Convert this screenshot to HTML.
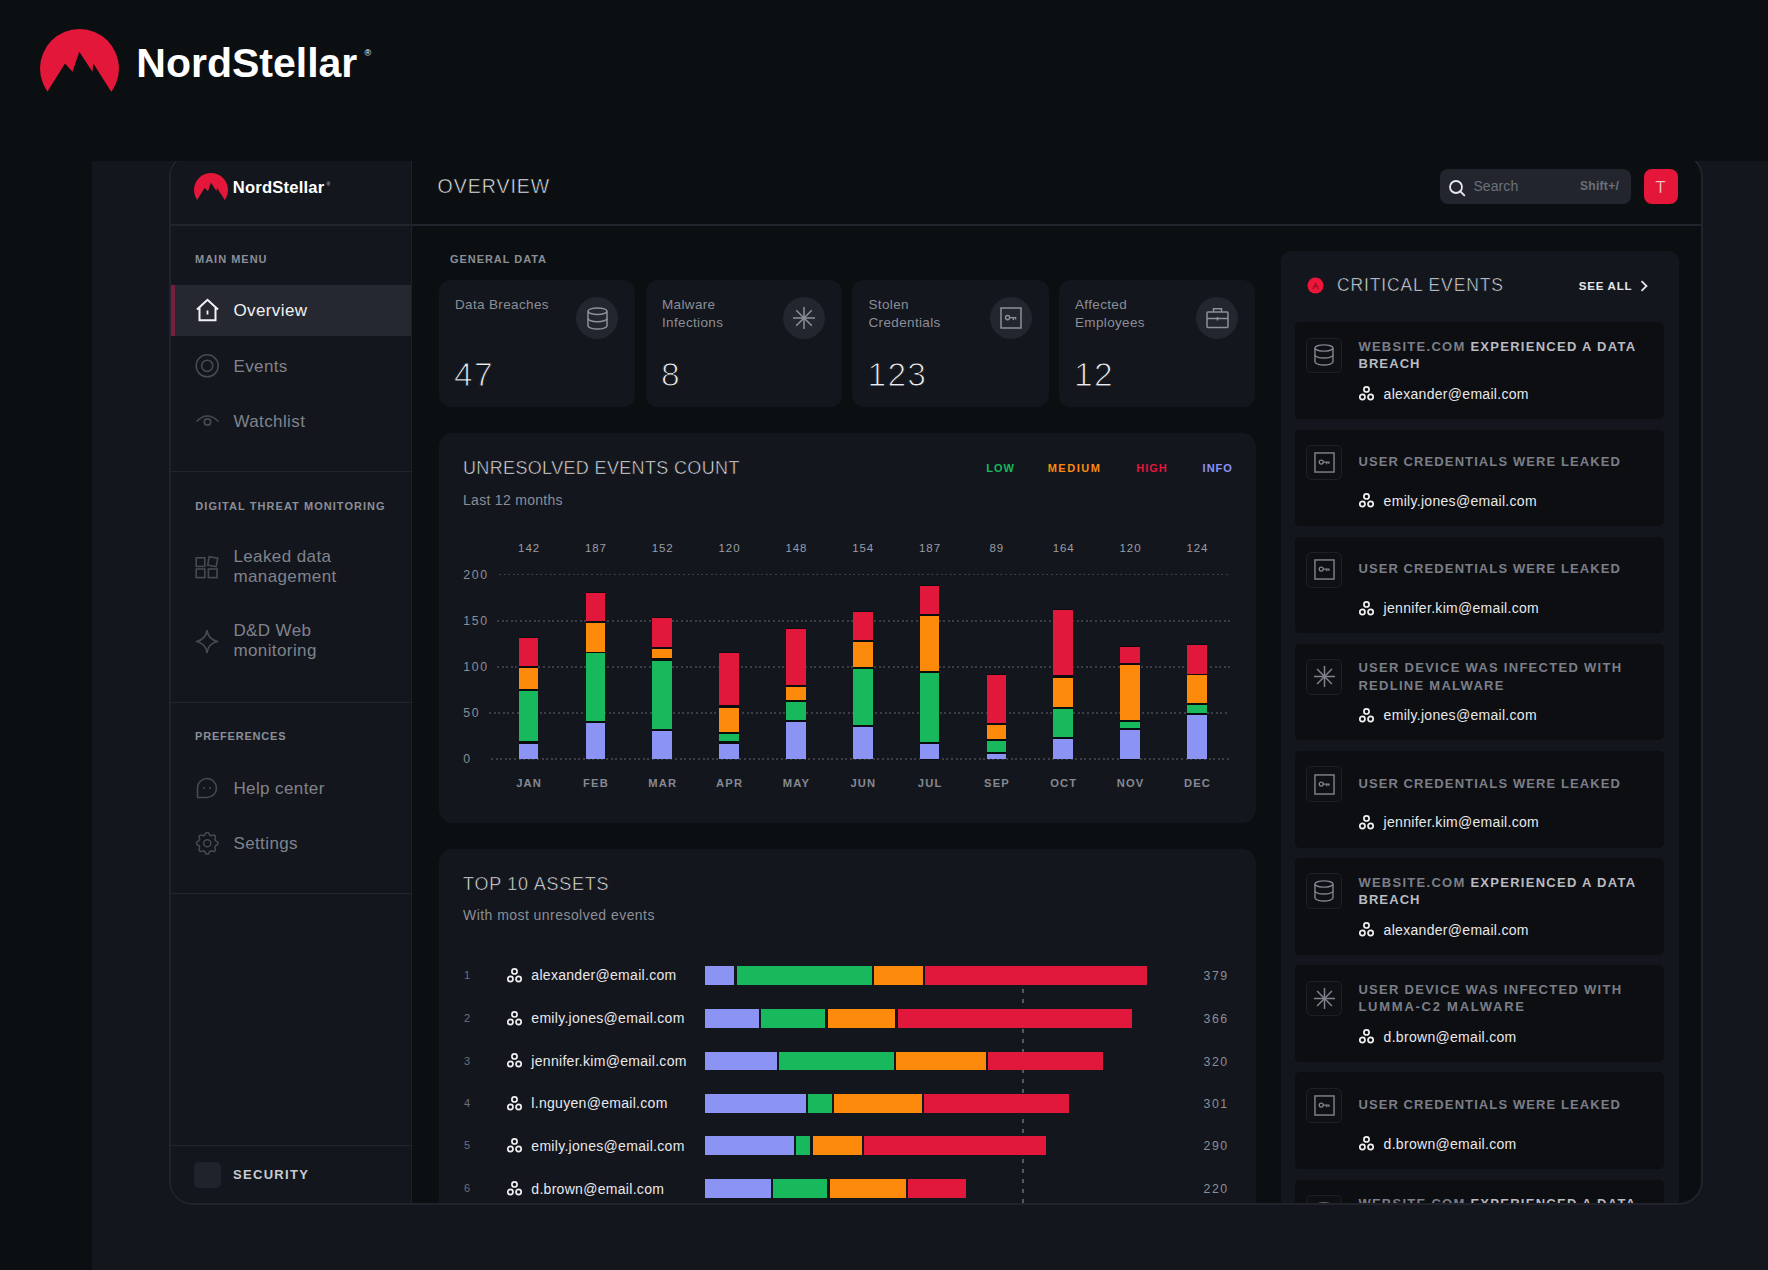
<!DOCTYPE html>
<html><head><meta charset="utf-8"><title>NordStellar Overview</title>
<style>
html,body{margin:0;padding:0;}
body{width:1768px;height:1270px;background:#0c0f12;position:relative;overflow:hidden;font-family:"Liberation Sans", Arial, sans-serif;}
.t{position:absolute;white-space:nowrap;line-height:1;}
.r{position:absolute;}
svg.r{overflow:visible;}
</style></head><body>
<svg class="r" style="left:40.10px;top:29.40px;" width="79" height="63.6" viewBox="0 0 80 64.4"><defs><clipPath id="lg1"><polygon points="0,0 80,0 80,65 72.7,64.4 54,34.9 53.1,43.2 39.8,23.1 32.9,43.2 25.3,34.9 7,64.4 0,65"/></clipPath></defs><circle cx="40" cy="40" r="40" fill="#e3173a" clip-path="url(#lg1)"/></svg>
<div class="t" style="top:42.69px;font-size:41px;color:#ffffff;font-weight:700;left:136.30px;">NordStellar</div>
<div class="t" style="top:49.38px;font-size:9px;color:#ffffff;left:364.50px;">&#174;</div>
<div class="r" style="left:92px;top:161px;width:1676px;height:1109px;background:#13161d;overflow:hidden;">
<div class="r" style="left:77px;top:-8px;width:1534px;height:1052px;border:2px solid #20232b;border-radius:24px;background:#0c0f12;overflow:hidden;box-sizing:border-box;">
<div class="r" style="left:-171px;top:-155px;width:1768px;height:1270px;">
<div class="r" style="left:171.00px;top:155.00px;width:240.00px;height:1050.00px;background:#13161d;"></div>
<div class="r" style="left:410.60px;top:155.00px;width:1.60px;height:1050.00px;background:#1e2129;"></div>
<svg class="r" style="left:193.90px;top:173.10px;" width="34" height="27.37" viewBox="0 0 80 64.4"><defs><clipPath id="lg2"><polygon points="0,0 80,0 80,65 72.7,64.4 54,34.9 53.1,43.2 39.8,23.1 32.9,43.2 25.3,34.9 7,64.4 0,65"/></clipPath></defs><circle cx="40" cy="40" r="40" fill="#e3173a" clip-path="url(#lg2)"/></svg>
<div class="t" style="top:180.15px;font-size:16.6px;color:#ffffff;font-weight:700;letter-spacing:0.2px;left:232.80px;">NordStellar</div>
<div class="t" style="top:182.27px;font-size:5px;color:#cfd0d4;left:326.50px;">&#174;</div>
<div class="r" style="left:171.00px;top:224.40px;width:240.00px;height:1.20px;background:#22252d;"></div>
<div class="t" style="top:253.89px;font-size:11px;color:#8b8e97;font-weight:700;letter-spacing:1.0px;left:195.00px;">MAIN MENU</div>
<div class="r" style="left:171.00px;top:285.00px;width:240.00px;height:51.00px;background:#252831;"></div>
<div class="r" style="left:171.00px;top:285.00px;width:3.50px;height:51.00px;background:#74203c;"></div>
<svg class="r" style="left:195.00px;top:298.00px;" width="25" height="24" viewBox="0 0 25 24"><path d="M2 11.5 L12.5 1.8 L23 11.5 M4.5 9.5 V22.2 H20.5 V9.5" fill="none" stroke="#f2f2f4" stroke-width="2" stroke-linejoin="miter"/><path d="M12.5 12.5 V16.5" stroke="#f2f2f4" stroke-width="1.8"/></svg>
<div class="t" style="top:302.41px;font-size:17px;color:#f0f0f2;letter-spacing:0.4px;left:233.40px;">Overview</div>
<svg class="r" style="left:195.00px;top:354.00px;" width="25" height="25" viewBox="0 0 25 25"><circle cx="12.2" cy="11.8" r="11" fill="none" stroke="#474a53" stroke-width="1.6"/><circle cx="12.2" cy="11.8" r="5.6" fill="none" stroke="#474a53" stroke-width="1.6"/></svg>
<div class="t" style="top:358.21px;font-size:17px;color:#80838c;letter-spacing:0.4px;left:233.40px;">Events</div>
<svg class="r" style="left:195.00px;top:412.00px;" width="25" height="20" viewBox="0 0 25 20"><path d="M1.5 9.5 Q12.5 -1.5 23.5 9.5" fill="none" stroke="#474a53" stroke-width="1.7"/><circle cx="12.5" cy="10" r="3.2" fill="none" stroke="#474a53" stroke-width="1.7"/></svg>
<div class="t" style="top:413.01px;font-size:17px;color:#80838c;letter-spacing:0.4px;left:233.40px;">Watchlist</div>
<div class="r" style="left:171.00px;top:471.00px;width:240.00px;height:1.00px;background:#22252d;"></div>
<div class="t" style="top:500.99px;font-size:11px;color:#8b8e97;font-weight:700;letter-spacing:1.05px;left:195.30px;">DIGITAL THREAT MONITORING</div>
<svg class="r" style="left:195.00px;top:556.00px;" width="24" height="23" viewBox="0 0 24 23"><rect x="1.2" y="1.8" width="8.6" height="8.6" fill="none" stroke="#474a53" stroke-width="1.6"/><rect x="13.4" y="1.4" width="8.6" height="8.6" fill="none" stroke="#474a53" stroke-width="1.6" transform="rotate(10 17.7 5.7)"/><rect x="1.2" y="13" width="8.6" height="8.6" fill="none" stroke="#474a53" stroke-width="1.6"/><rect x="13.4" y="13" width="8.6" height="8.6" fill="none" stroke="#474a53" stroke-width="1.6"/></svg>
<div class="t" style="top:547.61px;font-size:17px;color:#80838c;letter-spacing:0.4px;left:233.40px;">Leaked data</div>
<div class="t" style="top:567.61px;font-size:17px;color:#80838c;letter-spacing:0.4px;left:233.40px;">management</div>
<svg class="r" style="left:195.00px;top:629.00px;" width="24" height="25" viewBox="0 0 24 25"><path d="M12 1.5 Q13.5 10.5 22.5 12.5 Q13.5 14.5 12 23.5 Q10.5 14.5 1.5 12.5 Q10.5 10.5 12 1.5 Z" fill="none" stroke="#474a53" stroke-width="1.6" stroke-linejoin="round"/></svg>
<div class="t" style="top:622.31px;font-size:17px;color:#80838c;letter-spacing:0.4px;left:233.40px;">D&amp;D Web</div>
<div class="t" style="top:641.81px;font-size:17px;color:#80838c;letter-spacing:0.4px;left:233.40px;">monitoring</div>
<div class="r" style="left:171.00px;top:702.00px;width:240.00px;height:1.00px;background:#22252d;"></div>
<div class="t" style="top:731.19px;font-size:11px;color:#8b8e97;font-weight:700;letter-spacing:0.8px;left:195.00px;">PREFERENCES</div>
<svg class="r" style="left:195.00px;top:776.00px;" width="24" height="24" viewBox="0 0 24 24"><path d="M2.5 21.5 V11.5 A9.5 9.5 0 1 1 12 21.5 Z" fill="none" stroke="#474a53" stroke-width="1.6" stroke-linejoin="round"/><circle cx="9" cy="12" r="1.1" fill="#474a53"/><circle cx="15" cy="12" r="1.1" fill="#474a53"/></svg>
<div class="t" style="top:779.61px;font-size:17px;color:#80838c;letter-spacing:0.4px;left:233.40px;">Help center</div>
<svg class="r" style="left:195.50px;top:831.50px;" width="22.5" height="22.5" viewBox="2.6 2.6 18.8 18.8"><path d="M10.325 4.317c.426 -1.756 2.924 -1.756 3.35 0a1.724 1.724 0 0 0 2.573 1.066c1.543 -.94 3.31 .826 2.37 2.37a1.724 1.724 0 0 0 1.065 2.572c1.756 .426 1.756 2.924 0 3.35a1.724 1.724 0 0 0 -1.066 2.573c.94 1.543 -.826 3.31 -2.37 2.37a1.724 1.724 0 0 0 -2.572 1.065c-.426 1.756 -2.924 1.756 -3.35 0a1.724 1.724 0 0 0 -2.573 -1.066c-1.543 .94 -3.31 -.826 -2.37 -2.37a1.724 1.724 0 0 0 -1.065 -2.572c-1.756 -.426 -1.756 -2.924 0 -3.35a1.724 1.724 0 0 0 1.066 -2.573c-.94 -1.543 .826 -3.31 2.37 -2.37c1 .608 2.296 .07 2.572 -1.065z" fill="none" stroke="#474a53" stroke-width="1.3" stroke-linejoin="round"/><circle cx="12" cy="12" r="3" fill="none" stroke="#474a53" stroke-width="1.3"/></svg>
<div class="t" style="top:834.71px;font-size:17px;color:#80838c;letter-spacing:0.4px;left:233.40px;">Settings</div>
<div class="r" style="left:171.00px;top:893.00px;width:240.00px;height:1.00px;background:#22252d;"></div>
<div class="r" style="left:171.00px;top:1145.00px;width:240.00px;height:1.00px;background:#22252d;"></div>
<div class="r" style="left:194.20px;top:1162.40px;width:26.40px;height:25.20px;background:#20232b;border-radius:5px;"></div>
<div class="t" style="top:1168.30px;font-size:13px;color:#c9cbd0;font-weight:700;letter-spacing:1.3px;left:233.00px;">SECURITY</div>
<div class="r" style="left:412.00px;top:224.40px;width:1290.00px;height:1.20px;background:#22252d;"></div>
<div class="t" style="top:177.49px;font-size:19.5px;color:#eeeff2;letter-spacing:1.0px;left:437.50px;-webkit-text-stroke:0.6px #0c0f12;">OVERVIEW</div>
<div class="r" style="left:1439.50px;top:169.00px;width:191.00px;height:35.00px;background:#22252e;border-radius:8px;"></div>
<svg class="r" style="left:1447.50px;top:178.50px;" width="18" height="18" viewBox="0 0 18 18"><circle cx="8" cy="8" r="6" fill="none" stroke="#e6e7ea" stroke-width="1.8"/><path d="M12.3 12.3 L16.3 16.3" stroke="#e6e7ea" stroke-width="1.9" stroke-linecap="round"/></svg>
<div class="t" style="top:178.55px;font-size:14px;color:#6d7079;letter-spacing:0.1px;left:1473.40px;">Search</div>
<div class="t" style="top:180.04px;font-size:12px;color:#6d7079;font-weight:700;letter-spacing:0.3px;left:1580.00px;">Shift+/</div>
<div class="r" style="left:1643.50px;top:169.00px;width:34.00px;height:35.00px;background:#e4163a;border-radius:8px;"></div>
<div class="t" style="top:178.61px;font-size:17px;color:#ffffff;left:1643.50px;width:34px;text-align:center;-webkit-text-stroke:0.6px #e4163a;">T</div>
<div class="t" style="top:253.69px;font-size:11px;color:#8b8e97;font-weight:700;letter-spacing:0.95px;left:450.00px;">GENERAL DATA</div>
<div class="r" style="left:438.60px;top:280.30px;width:196.60px;height:126.70px;background:#13161d;border-radius:12px;"></div>
<div class="t" style="top:298.37px;font-size:13.5px;color:#8b8e97;letter-spacing:0.35px;left:455.00px;">Data Breaches</div>
<div class="r" style="left:576.00px;top:297.00px;width:42.00px;height:42.00px;background:#23262e;border-radius:50%;"></div>
<svg class="r" style="left:586.50px;top:306.50px;" width="21.0" height="23.0" viewBox="0 0 21 23"><ellipse cx="10.5" cy="4.2" rx="9.5" ry="3.3" fill="none" stroke="#8d909a" stroke-width="1.5"/><path d="M1 4.2 V18.8 A9.5 3.3 0 0 0 20 18.8 V4.2" fill="none" stroke="#8d909a" stroke-width="1.5"/><path d="M1 11.5 A9.5 3.3 0 0 0 20 11.5" fill="none" stroke="#8d909a" stroke-width="1.5"/></svg>
<div class="t" style="top:357.54px;font-size:33.5px;color:#ededf0;letter-spacing:1.3px;left:454.00px;-webkit-text-stroke:1.1px #13161d;">47</div>
<div class="r" style="left:645.60px;top:280.30px;width:196.60px;height:126.70px;background:#13161d;border-radius:12px;"></div>
<div class="t" style="top:298.37px;font-size:13.5px;color:#8b8e97;letter-spacing:0.35px;left:662.00px;">Malware</div>
<div class="t" style="top:315.77px;font-size:13.5px;color:#8b8e97;letter-spacing:0.35px;left:662.00px;">Infections</div>
<div class="r" style="left:783.00px;top:297.00px;width:42.00px;height:42.00px;background:#23262e;border-radius:50%;"></div>
<svg class="r" style="left:793.00px;top:307.00px;" width="22" height="22" viewBox="0 0 22 22"><path d="M0.00 11.00 L22.00 11.00" stroke="#8d909a" stroke-width="1.5"/><path d="M3.22 3.22 L18.78 18.78" stroke="#8d909a" stroke-width="1.5"/><path d="M11.00 0.00 L11.00 22.00" stroke="#8d909a" stroke-width="1.5"/><path d="M18.78 3.22 L3.22 18.78" stroke="#8d909a" stroke-width="1.5"/></svg>
<div class="t" style="top:357.54px;font-size:33.5px;color:#ededf0;letter-spacing:1.3px;left:661.00px;-webkit-text-stroke:1.1px #13161d;">8</div>
<div class="r" style="left:852.10px;top:280.30px;width:196.60px;height:126.70px;background:#13161d;border-radius:12px;"></div>
<div class="t" style="top:298.37px;font-size:13.5px;color:#8b8e97;letter-spacing:0.35px;left:868.50px;">Stolen</div>
<div class="t" style="top:315.77px;font-size:13.5px;color:#8b8e97;letter-spacing:0.35px;left:868.50px;">Credentials</div>
<div class="r" style="left:989.50px;top:297.00px;width:42.00px;height:42.00px;background:#23262e;border-radius:50%;"></div>
<svg class="r" style="left:999.50px;top:307.00px;" width="22" height="22" viewBox="0 0 22 22"><rect x="1" y="1" width="20" height="20" fill="none" stroke="#8d909a" stroke-width="1.5"/><circle cx="7.6" cy="10.6" r="2.1" fill="none" stroke="#8d909a" stroke-width="1.4"/><path d="M9.7 10.6 H16.2 M13.3 10.6 V12.9 M15.6 10.6 V12.4" fill="none" stroke="#8d909a" stroke-width="1.4"/></svg>
<div class="t" style="top:357.54px;font-size:33.5px;color:#ededf0;letter-spacing:1.3px;left:867.50px;-webkit-text-stroke:1.1px #13161d;">123</div>
<div class="r" style="left:1058.60px;top:280.30px;width:196.60px;height:126.70px;background:#13161d;border-radius:12px;"></div>
<div class="t" style="top:298.37px;font-size:13.5px;color:#8b8e97;letter-spacing:0.35px;left:1075.00px;">Affected</div>
<div class="t" style="top:315.77px;font-size:13.5px;color:#8b8e97;letter-spacing:0.35px;left:1075.00px;">Employees</div>
<div class="r" style="left:1196.00px;top:297.00px;width:42.00px;height:42.00px;background:#23262e;border-radius:50%;"></div>
<svg class="r" style="left:1205.50px;top:307.00px;" width="23" height="22" viewBox="0 0 23 22"><rect x="1" y="5" width="21" height="15.5" rx="1" fill="none" stroke="#8d909a" stroke-width="1.5"/><path d="M7.5 5 V1.8 H15.5 V5" fill="none" stroke="#8d909a" stroke-width="1.5"/><path d="M1 11.5 H22" stroke="#8d909a" stroke-width="1.5"/><path d="M11.5 10 V13.5" stroke="#8d909a" stroke-width="1.6"/></svg>
<div class="t" style="top:357.54px;font-size:33.5px;color:#ededf0;letter-spacing:1.3px;left:1074.00px;-webkit-text-stroke:1.1px #13161d;">12</div>
<div class="r" style="left:438.50px;top:433.40px;width:817.00px;height:389.60px;background:#13161d;border-radius:14px;"></div>
<div class="t" style="top:459.46px;font-size:18px;color:#eeeff2;letter-spacing:0.35px;left:463.00px;-webkit-text-stroke:0.6px #13161d;">UNRESOLVED EVENTS COUNT</div>
<div class="t" style="top:492.55px;font-size:14px;color:#8b8e97;letter-spacing:0.3px;left:463.00px;">Last 12 months</div>
<div class="t" style="top:462.79px;font-size:11px;color:#18b85c;font-weight:700;letter-spacing:1.0px;left:986.30px;">LOW</div>
<div class="t" style="top:462.79px;font-size:11px;color:#fd8a0b;font-weight:700;letter-spacing:1.5px;left:1047.70px;">MEDIUM</div>
<div class="t" style="top:462.79px;font-size:11px;color:#e1173b;font-weight:700;letter-spacing:1.0px;left:1136.30px;">HIGH</div>
<div class="t" style="top:462.79px;font-size:11px;color:#8b93f5;font-weight:700;letter-spacing:1.0px;left:1202.60px;">INFO</div>
<div class="t" style="top:568.69px;font-size:12.3px;color:#8b8e97;letter-spacing:1.6px;left:463.30px;">200</div>
<div class="r" style="left:498.5px;top:573.60px;width:731.5px;height:1.8px;background:repeating-linear-gradient(90deg,#3b3e47 0 2px,transparent 2px 4.6px);"></div>
<div class="t" style="top:614.99px;font-size:12.3px;color:#8b8e97;letter-spacing:1.6px;left:463.30px;">150</div>
<div class="r" style="left:496.5px;top:619.90px;width:733.5px;height:1.8px;background:repeating-linear-gradient(90deg,#3b3e47 0 2px,transparent 2px 4.6px);"></div>
<div class="t" style="top:661.09px;font-size:12.3px;color:#8b8e97;letter-spacing:1.6px;left:463.30px;">100</div>
<div class="r" style="left:496.5px;top:666.00px;width:733.5px;height:1.8px;background:repeating-linear-gradient(90deg,#3b3e47 0 2px,transparent 2px 4.6px);"></div>
<div class="t" style="top:707.09px;font-size:12.3px;color:#8b8e97;letter-spacing:1.6px;left:463.30px;">50</div>
<div class="r" style="left:489px;top:712.00px;width:741px;height:1.8px;background:repeating-linear-gradient(90deg,#3b3e47 0 2px,transparent 2px 4.6px);"></div>
<div class="t" style="top:753.19px;font-size:12.3px;color:#8b8e97;letter-spacing:1.6px;left:463.30px;">0</div>
<div class="r" style="left:491px;top:758.10px;width:739px;height:1.8px;background:repeating-linear-gradient(90deg,#3b3e47 0 2px,transparent 2px 4.6px);"></div>
<div class="t" style="top:543.27px;font-size:11.5px;color:#9a9da6;letter-spacing:0.9px;left:508.60px;width:40px;text-align:center;text-indent:0.9px;">142</div>
<div class="t" style="top:778.22px;font-size:11.2px;color:#868992;font-weight:700;letter-spacing:1.15px;left:503.60px;width:50px;text-align:center;text-indent:1.15px;">JAN</div>
<div class="r" style="left:518.80px;top:637.10px;width:19.60px;height:122.40px;background:#0a0c0f;"></div>
<div class="r" style="left:518.80px;top:638.10px;width:19.60px;height:28.20px;background:#e1173b;"></div>
<div class="r" style="left:518.80px;top:668.10px;width:19.60px;height:21.30px;background:#fd8a0b;"></div>
<div class="r" style="left:518.80px;top:691.20px;width:19.60px;height:50.20px;background:#18b85c;"></div>
<div class="r" style="left:518.80px;top:743.70px;width:19.60px;height:15.40px;background:#8b93f5;"></div>
<div class="t" style="top:543.27px;font-size:11.5px;color:#9a9da6;letter-spacing:0.9px;left:575.43px;width:40px;text-align:center;text-indent:0.9px;">187</div>
<div class="t" style="top:778.22px;font-size:11.2px;color:#868992;font-weight:700;letter-spacing:1.15px;left:570.43px;width:50px;text-align:center;text-indent:1.15px;">FEB</div>
<div class="r" style="left:585.63px;top:591.80px;width:19.60px;height:167.70px;background:#0a0c0f;"></div>
<div class="r" style="left:585.63px;top:592.80px;width:19.60px;height:28.70px;background:#e1173b;"></div>
<div class="r" style="left:585.63px;top:623.30px;width:19.60px;height:28.30px;background:#fd8a0b;"></div>
<div class="r" style="left:585.63px;top:653.20px;width:19.60px;height:68.30px;background:#18b85c;"></div>
<div class="r" style="left:585.63px;top:723.30px;width:19.60px;height:35.80px;background:#8b93f5;"></div>
<div class="t" style="top:543.27px;font-size:11.5px;color:#9a9da6;letter-spacing:0.9px;left:642.26px;width:40px;text-align:center;text-indent:0.9px;">152</div>
<div class="t" style="top:778.22px;font-size:11.2px;color:#868992;font-weight:700;letter-spacing:1.15px;left:637.26px;width:50px;text-align:center;text-indent:1.15px;">MAR</div>
<div class="r" style="left:652.46px;top:617.40px;width:19.60px;height:142.10px;background:#0a0c0f;"></div>
<div class="r" style="left:652.46px;top:618.40px;width:19.60px;height:28.70px;background:#e1173b;"></div>
<div class="r" style="left:652.46px;top:648.90px;width:19.60px;height:9.50px;background:#fd8a0b;"></div>
<div class="r" style="left:652.46px;top:660.70px;width:19.60px;height:68.30px;background:#18b85c;"></div>
<div class="r" style="left:652.46px;top:730.80px;width:19.60px;height:28.30px;background:#8b93f5;"></div>
<div class="t" style="top:543.27px;font-size:11.5px;color:#9a9da6;letter-spacing:0.9px;left:709.09px;width:40px;text-align:center;text-indent:0.9px;">120</div>
<div class="t" style="top:778.22px;font-size:11.2px;color:#868992;font-weight:700;letter-spacing:1.15px;left:704.09px;width:50px;text-align:center;text-indent:1.15px;">APR</div>
<div class="r" style="left:719.29px;top:651.80px;width:19.60px;height:107.70px;background:#0a0c0f;"></div>
<div class="r" style="left:719.29px;top:652.80px;width:19.60px;height:52.40px;background:#e1173b;"></div>
<div class="r" style="left:719.29px;top:707.50px;width:19.60px;height:24.50px;background:#fd8a0b;"></div>
<div class="r" style="left:719.29px;top:733.80px;width:19.60px;height:7.60px;background:#18b85c;"></div>
<div class="r" style="left:719.29px;top:743.70px;width:19.60px;height:15.40px;background:#8b93f5;"></div>
<div class="t" style="top:543.27px;font-size:11.5px;color:#9a9da6;letter-spacing:0.9px;left:775.92px;width:40px;text-align:center;text-indent:0.9px;">148</div>
<div class="t" style="top:778.22px;font-size:11.2px;color:#868992;font-weight:700;letter-spacing:1.15px;left:770.92px;width:50px;text-align:center;text-indent:1.15px;">MAY</div>
<div class="r" style="left:786.12px;top:627.60px;width:19.60px;height:131.90px;background:#0a0c0f;"></div>
<div class="r" style="left:786.12px;top:628.60px;width:19.60px;height:56.30px;background:#e1173b;"></div>
<div class="r" style="left:786.12px;top:687.10px;width:19.60px;height:13.20px;background:#fd8a0b;"></div>
<div class="r" style="left:786.12px;top:702.10px;width:19.60px;height:18.10px;background:#18b85c;"></div>
<div class="r" style="left:786.12px;top:722.00px;width:19.60px;height:37.10px;background:#8b93f5;"></div>
<div class="t" style="top:543.27px;font-size:11.5px;color:#9a9da6;letter-spacing:0.9px;left:842.75px;width:40px;text-align:center;text-indent:0.9px;">154</div>
<div class="t" style="top:778.22px;font-size:11.2px;color:#868992;font-weight:700;letter-spacing:1.15px;left:837.75px;width:50px;text-align:center;text-indent:1.15px;">JUN</div>
<div class="r" style="left:852.95px;top:611.20px;width:19.60px;height:148.30px;background:#0a0c0f;"></div>
<div class="r" style="left:852.95px;top:612.20px;width:19.60px;height:28.30px;background:#e1173b;"></div>
<div class="r" style="left:852.95px;top:642.30px;width:19.60px;height:24.80px;background:#fd8a0b;"></div>
<div class="r" style="left:852.95px;top:669.00px;width:19.60px;height:55.70px;background:#18b85c;"></div>
<div class="r" style="left:852.95px;top:726.50px;width:19.60px;height:32.50px;background:#8b93f5;"></div>
<div class="t" style="top:543.27px;font-size:11.5px;color:#9a9da6;letter-spacing:0.9px;left:909.58px;width:40px;text-align:center;text-indent:0.9px;">187</div>
<div class="t" style="top:778.22px;font-size:11.2px;color:#868992;font-weight:700;letter-spacing:1.15px;left:904.58px;width:50px;text-align:center;text-indent:1.15px;">JUL</div>
<div class="r" style="left:919.78px;top:584.50px;width:19.60px;height:175.00px;background:#0a0c0f;"></div>
<div class="r" style="left:919.78px;top:585.50px;width:19.60px;height:28.30px;background:#e1173b;"></div>
<div class="r" style="left:919.78px;top:615.70px;width:19.60px;height:55.60px;background:#fd8a0b;"></div>
<div class="r" style="left:919.78px;top:673.20px;width:19.60px;height:68.80px;background:#18b85c;"></div>
<div class="r" style="left:919.78px;top:743.90px;width:19.60px;height:15.10px;background:#8b93f5;"></div>
<div class="t" style="top:543.27px;font-size:11.5px;color:#9a9da6;letter-spacing:0.9px;left:976.41px;width:40px;text-align:center;text-indent:0.9px;">89</div>
<div class="t" style="top:778.22px;font-size:11.2px;color:#868992;font-weight:700;letter-spacing:1.15px;left:971.41px;width:50px;text-align:center;text-indent:1.15px;">SEP</div>
<div class="r" style="left:986.61px;top:674.30px;width:19.60px;height:85.20px;background:#0a0c0f;"></div>
<div class="r" style="left:986.61px;top:675.30px;width:19.60px;height:47.50px;background:#e1173b;"></div>
<div class="r" style="left:986.61px;top:724.70px;width:19.60px;height:14.60px;background:#fd8a0b;"></div>
<div class="r" style="left:986.61px;top:741.10px;width:19.60px;height:11.40px;background:#18b85c;"></div>
<div class="r" style="left:986.61px;top:754.30px;width:19.60px;height:4.70px;background:#8b93f5;"></div>
<div class="t" style="top:543.27px;font-size:11.5px;color:#9a9da6;letter-spacing:0.9px;left:1043.24px;width:40px;text-align:center;text-indent:0.9px;">164</div>
<div class="t" style="top:778.22px;font-size:11.2px;color:#868992;font-weight:700;letter-spacing:1.15px;left:1038.24px;width:50px;text-align:center;text-indent:1.15px;">OCT</div>
<div class="r" style="left:1053.44px;top:608.90px;width:19.60px;height:150.60px;background:#0a0c0f;"></div>
<div class="r" style="left:1053.44px;top:609.90px;width:19.60px;height:65.60px;background:#e1173b;"></div>
<div class="r" style="left:1053.44px;top:677.60px;width:19.60px;height:29.90px;background:#fd8a0b;"></div>
<div class="r" style="left:1053.44px;top:709.40px;width:19.60px;height:28.00px;background:#18b85c;"></div>
<div class="r" style="left:1053.44px;top:739.30px;width:19.60px;height:19.70px;background:#8b93f5;"></div>
<div class="t" style="top:543.27px;font-size:11.5px;color:#9a9da6;letter-spacing:0.9px;left:1110.07px;width:40px;text-align:center;text-indent:0.9px;">120</div>
<div class="t" style="top:778.22px;font-size:11.2px;color:#868992;font-weight:700;letter-spacing:1.15px;left:1105.07px;width:50px;text-align:center;text-indent:1.15px;">NOV</div>
<div class="r" style="left:1120.27px;top:645.50px;width:19.60px;height:114.00px;background:#0a0c0f;"></div>
<div class="r" style="left:1120.27px;top:646.50px;width:19.60px;height:16.20px;background:#e1173b;"></div>
<div class="r" style="left:1120.27px;top:664.80px;width:19.60px;height:55.20px;background:#fd8a0b;"></div>
<div class="r" style="left:1120.27px;top:721.90px;width:19.60px;height:6.00px;background:#18b85c;"></div>
<div class="r" style="left:1120.27px;top:729.80px;width:19.60px;height:29.20px;background:#8b93f5;"></div>
<div class="t" style="top:543.27px;font-size:11.5px;color:#9a9da6;letter-spacing:0.9px;left:1176.90px;width:40px;text-align:center;text-indent:0.9px;">124</div>
<div class="t" style="top:778.22px;font-size:11.2px;color:#868992;font-weight:700;letter-spacing:1.15px;left:1171.90px;width:50px;text-align:center;text-indent:1.15px;">DEC</div>
<div class="r" style="left:1187.10px;top:644.10px;width:19.60px;height:115.40px;background:#0a0c0f;"></div>
<div class="r" style="left:1187.10px;top:645.10px;width:19.60px;height:28.50px;background:#e1173b;"></div>
<div class="r" style="left:1187.10px;top:675.30px;width:19.60px;height:27.80px;background:#fd8a0b;"></div>
<div class="r" style="left:1187.10px;top:705.00px;width:19.60px;height:8.10px;background:#18b85c;"></div>
<div class="r" style="left:1187.10px;top:714.90px;width:19.60px;height:44.10px;background:#8b93f5;"></div>
<div class="r" style="left:438.50px;top:849.00px;width:817.00px;height:400.00px;background:#13161d;border-radius:14px;"></div>
<div class="t" style="top:874.86px;font-size:18px;color:#eeeff2;letter-spacing:0.75px;left:463.00px;-webkit-text-stroke:0.6px #13161d;">TOP 10 ASSETS</div>
<div class="t" style="top:907.95px;font-size:14px;color:#8b8e97;letter-spacing:0.45px;left:463.00px;">With most unresolved events</div>
<div class="r" style="left:1022.3px;top:989.4px;width:2px;height:230px;background:repeating-linear-gradient(180deg,#555862 0 3.6px,transparent 3.6px 10px);"></div>
<div class="t" style="top:970.09px;font-size:11px;color:#6d7079;left:464.00px;">1</div>
<svg class="r" style="left:506.80px;top:967.80px;" width="15" height="15" viewBox="0 0 15 15"><circle cx="7.5" cy="3.4" r="2.6" fill="none" stroke="#f0f0f2" stroke-width="1.7"/><circle cx="3.4" cy="11" r="2.6" fill="none" stroke="#f0f0f2" stroke-width="1.7"/><circle cx="11.6" cy="11" r="2.6" fill="none" stroke="#f0f0f2" stroke-width="1.7"/></svg>
<div class="t" style="top:968.45px;font-size:14px;color:#e9e9ec;letter-spacing:0.3px;left:531.30px;">alexander@email.com</div>
<div class="r" style="left:704.80px;top:966.10px;width:29.70px;height:18.70px;background:#8b93f5;"></div>
<div class="r" style="left:736.70px;top:966.10px;width:135.50px;height:18.70px;background:#18b85c;"></div>
<div class="r" style="left:874.40px;top:966.10px;width:48.40px;height:18.70px;background:#fd8a0b;"></div>
<div class="r" style="left:925.30px;top:966.10px;width:221.50px;height:18.70px;background:#e1173b;"></div>
<div class="t" style="top:970.29px;font-size:12.3px;color:#8b8e97;letter-spacing:1.6px;left:1168.80px;width:60px;text-align:right;margin-right:-1.6px;">379</div>
<div class="t" style="top:1012.99px;font-size:11px;color:#6d7079;left:464.00px;">2</div>
<svg class="r" style="left:506.80px;top:1010.70px;" width="15" height="15" viewBox="0 0 15 15"><circle cx="7.5" cy="3.4" r="2.6" fill="none" stroke="#f0f0f2" stroke-width="1.7"/><circle cx="3.4" cy="11" r="2.6" fill="none" stroke="#f0f0f2" stroke-width="1.7"/><circle cx="11.6" cy="11" r="2.6" fill="none" stroke="#f0f0f2" stroke-width="1.7"/></svg>
<div class="t" style="top:1011.35px;font-size:14px;color:#e9e9ec;letter-spacing:0.3px;left:531.30px;">emily.jones@email.com</div>
<div class="r" style="left:704.80px;top:1009.00px;width:53.90px;height:18.70px;background:#8b93f5;"></div>
<div class="r" style="left:760.90px;top:1009.00px;width:64.50px;height:18.70px;background:#18b85c;"></div>
<div class="r" style="left:827.70px;top:1009.00px;width:67.70px;height:18.70px;background:#fd8a0b;"></div>
<div class="r" style="left:897.90px;top:1009.00px;width:233.80px;height:18.70px;background:#e1173b;"></div>
<div class="t" style="top:1013.19px;font-size:12.3px;color:#8b8e97;letter-spacing:1.6px;left:1168.80px;width:60px;text-align:right;margin-right:-1.6px;">366</div>
<div class="t" style="top:1055.59px;font-size:11px;color:#6d7079;left:464.00px;">3</div>
<svg class="r" style="left:506.80px;top:1053.30px;" width="15" height="15" viewBox="0 0 15 15"><circle cx="7.5" cy="3.4" r="2.6" fill="none" stroke="#f0f0f2" stroke-width="1.7"/><circle cx="3.4" cy="11" r="2.6" fill="none" stroke="#f0f0f2" stroke-width="1.7"/><circle cx="11.6" cy="11" r="2.6" fill="none" stroke="#f0f0f2" stroke-width="1.7"/></svg>
<div class="t" style="top:1053.95px;font-size:14px;color:#e9e9ec;letter-spacing:0.3px;left:531.30px;">jennifer.kim@email.com</div>
<div class="r" style="left:704.80px;top:1051.60px;width:72.20px;height:18.70px;background:#8b93f5;"></div>
<div class="r" style="left:779.30px;top:1051.60px;width:114.50px;height:18.70px;background:#18b85c;"></div>
<div class="r" style="left:895.70px;top:1051.60px;width:89.90px;height:18.70px;background:#fd8a0b;"></div>
<div class="r" style="left:988.20px;top:1051.60px;width:115.10px;height:18.70px;background:#e1173b;"></div>
<div class="t" style="top:1055.79px;font-size:12.3px;color:#8b8e97;letter-spacing:1.6px;left:1168.80px;width:60px;text-align:right;margin-right:-1.6px;">320</div>
<div class="t" style="top:1098.09px;font-size:11px;color:#6d7079;left:464.00px;">4</div>
<svg class="r" style="left:506.80px;top:1095.80px;" width="15" height="15" viewBox="0 0 15 15"><circle cx="7.5" cy="3.4" r="2.6" fill="none" stroke="#f0f0f2" stroke-width="1.7"/><circle cx="3.4" cy="11" r="2.6" fill="none" stroke="#f0f0f2" stroke-width="1.7"/><circle cx="11.6" cy="11" r="2.6" fill="none" stroke="#f0f0f2" stroke-width="1.7"/></svg>
<div class="t" style="top:1096.45px;font-size:14px;color:#e9e9ec;letter-spacing:0.3px;left:531.30px;">l.nguyen@email.com</div>
<div class="r" style="left:704.80px;top:1094.10px;width:101.20px;height:18.70px;background:#8b93f5;"></div>
<div class="r" style="left:808.00px;top:1094.10px;width:23.90px;height:18.70px;background:#18b85c;"></div>
<div class="r" style="left:834.10px;top:1094.10px;width:88.00px;height:18.70px;background:#fd8a0b;"></div>
<div class="r" style="left:924.40px;top:1094.10px;width:144.70px;height:18.70px;background:#e1173b;"></div>
<div class="t" style="top:1098.29px;font-size:12.3px;color:#8b8e97;letter-spacing:1.6px;left:1168.80px;width:60px;text-align:right;margin-right:-1.6px;">301</div>
<div class="t" style="top:1140.29px;font-size:11px;color:#6d7079;left:464.00px;">5</div>
<svg class="r" style="left:506.80px;top:1138.00px;" width="15" height="15" viewBox="0 0 15 15"><circle cx="7.5" cy="3.4" r="2.6" fill="none" stroke="#f0f0f2" stroke-width="1.7"/><circle cx="3.4" cy="11" r="2.6" fill="none" stroke="#f0f0f2" stroke-width="1.7"/><circle cx="11.6" cy="11" r="2.6" fill="none" stroke="#f0f0f2" stroke-width="1.7"/></svg>
<div class="t" style="top:1138.65px;font-size:14px;color:#e9e9ec;letter-spacing:0.3px;left:531.30px;">emily.jones@email.com</div>
<div class="r" style="left:704.80px;top:1136.30px;width:89.30px;height:18.70px;background:#8b93f5;"></div>
<div class="r" style="left:796.40px;top:1136.30px;width:13.90px;height:18.70px;background:#18b85c;"></div>
<div class="r" style="left:812.50px;top:1136.30px;width:49.00px;height:18.70px;background:#fd8a0b;"></div>
<div class="r" style="left:863.50px;top:1136.30px;width:182.40px;height:18.70px;background:#e1173b;"></div>
<div class="t" style="top:1140.49px;font-size:12.3px;color:#8b8e97;letter-spacing:1.6px;left:1168.80px;width:60px;text-align:right;margin-right:-1.6px;">290</div>
<div class="t" style="top:1183.19px;font-size:11px;color:#6d7079;left:464.00px;">6</div>
<svg class="r" style="left:506.80px;top:1180.90px;" width="15" height="15" viewBox="0 0 15 15"><circle cx="7.5" cy="3.4" r="2.6" fill="none" stroke="#f0f0f2" stroke-width="1.7"/><circle cx="3.4" cy="11" r="2.6" fill="none" stroke="#f0f0f2" stroke-width="1.7"/><circle cx="11.6" cy="11" r="2.6" fill="none" stroke="#f0f0f2" stroke-width="1.7"/></svg>
<div class="t" style="top:1181.55px;font-size:14px;color:#e9e9ec;letter-spacing:0.3px;left:531.30px;">d.brown@email.com</div>
<div class="r" style="left:704.80px;top:1179.20px;width:65.80px;height:18.70px;background:#8b93f5;"></div>
<div class="r" style="left:773.20px;top:1179.20px;width:53.80px;height:18.70px;background:#18b85c;"></div>
<div class="r" style="left:829.60px;top:1179.20px;width:76.40px;height:18.70px;background:#fd8a0b;"></div>
<div class="r" style="left:908.30px;top:1179.20px;width:57.70px;height:18.70px;background:#e1173b;"></div>
<div class="t" style="top:1183.39px;font-size:12.3px;color:#8b8e97;letter-spacing:1.6px;left:1168.80px;width:60px;text-align:right;margin-right:-1.6px;">220</div>
<div class="r" style="left:1280.50px;top:250.50px;width:398.50px;height:1000.00px;background:#13161d;border-radius:10px;"></div>
<svg class="r" style="left:1307.00px;top:277.20px;" width="17" height="17" viewBox="0 0 17 17"><circle cx="8.5" cy="8.5" r="8" fill="#ec1639"/><path d="M5.6 12.2 L7.3 8.6 L7.9 9.4 L8.6 5.6 L9.4 9.4 L10 8.6 L11.6 12.2" fill="none" stroke="#9a0f26" stroke-width="1.1"/></svg>
<div class="t" style="top:276.79px;font-size:17.5px;color:#eeeff2;letter-spacing:0.85px;left:1337.00px;-webkit-text-stroke:0.6px #13161d;">CRITICAL EVENTS</div>
<div class="t" style="top:280.67px;font-size:11.5px;color:#e6e7ea;font-weight:700;letter-spacing:0.75px;left:1578.80px;">SEE ALL</div>
<svg class="r" style="left:1639.00px;top:279.50px;" width="10" height="12" viewBox="0 0 10 12"><path d="M2.5 1.2 L7.5 6 L2.5 10.8" fill="none" stroke="#e6e7ea" stroke-width="1.8"/></svg>
<div class="r" style="left:1295.40px;top:322.40px;width:368.60px;height:96.60px;background:#0c0e12;border-radius:5px;"></div>
<div class="r" style="left:1305.80px;top:337.70px;width:36.20px;height:35.60px;background:#0e1014;border-radius:5px;border:1.6px solid #1c1f26;box-sizing:border-box;"></div>
<svg class="r" style="left:1314.03px;top:344.47px;" width="19.95" height="21.85" viewBox="0 0 21 23"><ellipse cx="10.5" cy="4.2" rx="9.5" ry="3.3" fill="none" stroke="#80838d" stroke-width="1.5"/><path d="M1 4.2 V18.8 A9.5 3.3 0 0 0 20 18.8 V4.2" fill="none" stroke="#80838d" stroke-width="1.5"/><path d="M1 11.5 A9.5 3.3 0 0 0 20 11.5" fill="none" stroke="#80838d" stroke-width="1.5"/></svg>
<div class="t" style="left:1358.4px;top:340.00px;font-size:13px;font-weight:700;letter-spacing:1.27px;color:#b9bbc2;"><span style="color:#7b7e88">WEBSITE.COM</span> EXPERIENCED A DATA</div>
<div class="t" style="top:357.10px;font-size:13px;color:#b9bbc2;font-weight:700;letter-spacing:1.1px;left:1358.40px;">BREACH</div>
<svg class="r" style="left:1359.00px;top:386.20px;" width="15" height="15" viewBox="0 0 15 15"><circle cx="7.5" cy="3.4" r="2.6" fill="none" stroke="#f0f0f2" stroke-width="1.7"/><circle cx="3.4" cy="11" r="2.6" fill="none" stroke="#f0f0f2" stroke-width="1.7"/><circle cx="11.6" cy="11" r="2.6" fill="none" stroke="#f0f0f2" stroke-width="1.7"/></svg>
<div class="t" style="top:386.75px;font-size:14px;color:#e9e9ec;letter-spacing:0.3px;left:1383.60px;">alexander@email.com</div>
<div class="r" style="left:1295.40px;top:429.55px;width:368.60px;height:96.60px;background:#0c0e12;border-radius:5px;"></div>
<div class="r" style="left:1305.80px;top:444.85px;width:36.20px;height:35.60px;background:#0e1014;border-radius:5px;border:1.6px solid #1c1f26;box-sizing:border-box;"></div>
<svg class="r" style="left:1313.50px;top:452.05px;" width="21" height="21" viewBox="0 0 22 22"><rect x="1" y="1" width="20" height="20" fill="none" stroke="#80838d" stroke-width="1.5"/><circle cx="7.6" cy="10.6" r="2.1" fill="none" stroke="#80838d" stroke-width="1.4"/><path d="M9.7 10.6 H16.2 M13.3 10.6 V12.9 M15.6 10.6 V12.4" fill="none" stroke="#80838d" stroke-width="1.4"/></svg>
<div class="t" style="top:455.25px;font-size:13px;color:#7b7e88;font-weight:700;letter-spacing:1.1px;left:1358.40px;">USER CREDENTIALS WERE LEAKED</div>
<svg class="r" style="left:1359.00px;top:493.35px;" width="15" height="15" viewBox="0 0 15 15"><circle cx="7.5" cy="3.4" r="2.6" fill="none" stroke="#f0f0f2" stroke-width="1.7"/><circle cx="3.4" cy="11" r="2.6" fill="none" stroke="#f0f0f2" stroke-width="1.7"/><circle cx="11.6" cy="11" r="2.6" fill="none" stroke="#f0f0f2" stroke-width="1.7"/></svg>
<div class="t" style="top:493.90px;font-size:14px;color:#e9e9ec;letter-spacing:0.3px;left:1383.60px;">emily.jones@email.com</div>
<div class="r" style="left:1295.40px;top:536.70px;width:368.60px;height:96.60px;background:#0c0e12;border-radius:5px;"></div>
<div class="r" style="left:1305.80px;top:552.00px;width:36.20px;height:35.60px;background:#0e1014;border-radius:5px;border:1.6px solid #1c1f26;box-sizing:border-box;"></div>
<svg class="r" style="left:1313.50px;top:559.20px;" width="21" height="21" viewBox="0 0 22 22"><rect x="1" y="1" width="20" height="20" fill="none" stroke="#80838d" stroke-width="1.5"/><circle cx="7.6" cy="10.6" r="2.1" fill="none" stroke="#80838d" stroke-width="1.4"/><path d="M9.7 10.6 H16.2 M13.3 10.6 V12.9 M15.6 10.6 V12.4" fill="none" stroke="#80838d" stroke-width="1.4"/></svg>
<div class="t" style="top:562.40px;font-size:13px;color:#7b7e88;font-weight:700;letter-spacing:1.1px;left:1358.40px;">USER CREDENTIALS WERE LEAKED</div>
<svg class="r" style="left:1359.00px;top:600.50px;" width="15" height="15" viewBox="0 0 15 15"><circle cx="7.5" cy="3.4" r="2.6" fill="none" stroke="#f0f0f2" stroke-width="1.7"/><circle cx="3.4" cy="11" r="2.6" fill="none" stroke="#f0f0f2" stroke-width="1.7"/><circle cx="11.6" cy="11" r="2.6" fill="none" stroke="#f0f0f2" stroke-width="1.7"/></svg>
<div class="t" style="top:601.05px;font-size:14px;color:#e9e9ec;letter-spacing:0.3px;left:1383.60px;">jennifer.kim@email.com</div>
<div class="r" style="left:1295.40px;top:643.85px;width:368.60px;height:96.60px;background:#0c0e12;border-radius:5px;"></div>
<div class="r" style="left:1305.80px;top:659.15px;width:36.20px;height:35.60px;background:#0e1014;border-radius:5px;border:1.6px solid #1c1f26;box-sizing:border-box;"></div>
<svg class="r" style="left:1313.50px;top:666.35px;" width="21.0" height="21.0" viewBox="0 0 21.0 21.0"><path d="M0.00 10.50 L21.00 10.50" stroke="#80838d" stroke-width="1.5"/><path d="M3.08 3.08 L17.92 17.92" stroke="#80838d" stroke-width="1.5"/><path d="M10.50 0.00 L10.50 21.00" stroke="#80838d" stroke-width="1.5"/><path d="M17.92 3.08 L3.08 17.92" stroke="#80838d" stroke-width="1.5"/></svg>
<div class="t" style="top:661.45px;font-size:13px;color:#7b7e88;font-weight:700;letter-spacing:1.28px;left:1358.40px;">USER DEVICE WAS INFECTED WITH</div>
<div class="t" style="top:678.55px;font-size:13px;color:#7b7e88;font-weight:700;letter-spacing:1.28px;left:1358.40px;">REDLINE MALWARE</div>
<svg class="r" style="left:1359.00px;top:707.65px;" width="15" height="15" viewBox="0 0 15 15"><circle cx="7.5" cy="3.4" r="2.6" fill="none" stroke="#f0f0f2" stroke-width="1.7"/><circle cx="3.4" cy="11" r="2.6" fill="none" stroke="#f0f0f2" stroke-width="1.7"/><circle cx="11.6" cy="11" r="2.6" fill="none" stroke="#f0f0f2" stroke-width="1.7"/></svg>
<div class="t" style="top:708.20px;font-size:14px;color:#e9e9ec;letter-spacing:0.3px;left:1383.60px;">emily.jones@email.com</div>
<div class="r" style="left:1295.40px;top:751.00px;width:368.60px;height:96.60px;background:#0c0e12;border-radius:5px;"></div>
<div class="r" style="left:1305.80px;top:766.30px;width:36.20px;height:35.60px;background:#0e1014;border-radius:5px;border:1.6px solid #1c1f26;box-sizing:border-box;"></div>
<svg class="r" style="left:1313.50px;top:773.50px;" width="21" height="21" viewBox="0 0 22 22"><rect x="1" y="1" width="20" height="20" fill="none" stroke="#80838d" stroke-width="1.5"/><circle cx="7.6" cy="10.6" r="2.1" fill="none" stroke="#80838d" stroke-width="1.4"/><path d="M9.7 10.6 H16.2 M13.3 10.6 V12.9 M15.6 10.6 V12.4" fill="none" stroke="#80838d" stroke-width="1.4"/></svg>
<div class="t" style="top:776.70px;font-size:13px;color:#7b7e88;font-weight:700;letter-spacing:1.1px;left:1358.40px;">USER CREDENTIALS WERE LEAKED</div>
<svg class="r" style="left:1359.00px;top:814.80px;" width="15" height="15" viewBox="0 0 15 15"><circle cx="7.5" cy="3.4" r="2.6" fill="none" stroke="#f0f0f2" stroke-width="1.7"/><circle cx="3.4" cy="11" r="2.6" fill="none" stroke="#f0f0f2" stroke-width="1.7"/><circle cx="11.6" cy="11" r="2.6" fill="none" stroke="#f0f0f2" stroke-width="1.7"/></svg>
<div class="t" style="top:815.35px;font-size:14px;color:#e9e9ec;letter-spacing:0.3px;left:1383.60px;">jennifer.kim@email.com</div>
<div class="r" style="left:1295.40px;top:858.15px;width:368.60px;height:96.60px;background:#0c0e12;border-radius:5px;"></div>
<div class="r" style="left:1305.80px;top:873.45px;width:36.20px;height:35.60px;background:#0e1014;border-radius:5px;border:1.6px solid #1c1f26;box-sizing:border-box;"></div>
<svg class="r" style="left:1314.03px;top:880.23px;" width="19.95" height="21.85" viewBox="0 0 21 23"><ellipse cx="10.5" cy="4.2" rx="9.5" ry="3.3" fill="none" stroke="#80838d" stroke-width="1.5"/><path d="M1 4.2 V18.8 A9.5 3.3 0 0 0 20 18.8 V4.2" fill="none" stroke="#80838d" stroke-width="1.5"/><path d="M1 11.5 A9.5 3.3 0 0 0 20 11.5" fill="none" stroke="#80838d" stroke-width="1.5"/></svg>
<div class="t" style="left:1358.4px;top:875.75px;font-size:13px;font-weight:700;letter-spacing:1.27px;color:#b9bbc2;"><span style="color:#7b7e88">WEBSITE.COM</span> EXPERIENCED A DATA</div>
<div class="t" style="top:892.85px;font-size:13px;color:#b9bbc2;font-weight:700;letter-spacing:1.1px;left:1358.40px;">BREACH</div>
<svg class="r" style="left:1359.00px;top:921.95px;" width="15" height="15" viewBox="0 0 15 15"><circle cx="7.5" cy="3.4" r="2.6" fill="none" stroke="#f0f0f2" stroke-width="1.7"/><circle cx="3.4" cy="11" r="2.6" fill="none" stroke="#f0f0f2" stroke-width="1.7"/><circle cx="11.6" cy="11" r="2.6" fill="none" stroke="#f0f0f2" stroke-width="1.7"/></svg>
<div class="t" style="top:922.50px;font-size:14px;color:#e9e9ec;letter-spacing:0.3px;left:1383.60px;">alexander@email.com</div>
<div class="r" style="left:1295.40px;top:965.30px;width:368.60px;height:96.60px;background:#0c0e12;border-radius:5px;"></div>
<div class="r" style="left:1305.80px;top:980.60px;width:36.20px;height:35.60px;background:#0e1014;border-radius:5px;border:1.6px solid #1c1f26;box-sizing:border-box;"></div>
<svg class="r" style="left:1313.50px;top:987.80px;" width="21.0" height="21.0" viewBox="0 0 21.0 21.0"><path d="M0.00 10.50 L21.00 10.50" stroke="#80838d" stroke-width="1.5"/><path d="M3.08 3.08 L17.92 17.92" stroke="#80838d" stroke-width="1.5"/><path d="M10.50 0.00 L10.50 21.00" stroke="#80838d" stroke-width="1.5"/><path d="M17.92 3.08 L3.08 17.92" stroke="#80838d" stroke-width="1.5"/></svg>
<div class="t" style="top:982.90px;font-size:13px;color:#7b7e88;font-weight:700;letter-spacing:1.28px;left:1358.40px;">USER DEVICE WAS INFECTED WITH</div>
<div class="t" style="top:1000.00px;font-size:13px;color:#7b7e88;font-weight:700;letter-spacing:1.75px;left:1358.40px;">LUMMA-C2 MALWARE</div>
<svg class="r" style="left:1359.00px;top:1029.10px;" width="15" height="15" viewBox="0 0 15 15"><circle cx="7.5" cy="3.4" r="2.6" fill="none" stroke="#f0f0f2" stroke-width="1.7"/><circle cx="3.4" cy="11" r="2.6" fill="none" stroke="#f0f0f2" stroke-width="1.7"/><circle cx="11.6" cy="11" r="2.6" fill="none" stroke="#f0f0f2" stroke-width="1.7"/></svg>
<div class="t" style="top:1029.65px;font-size:14px;color:#e9e9ec;letter-spacing:0.3px;left:1383.60px;">d.brown@email.com</div>
<div class="r" style="left:1295.40px;top:1072.45px;width:368.60px;height:96.60px;background:#0c0e12;border-radius:5px;"></div>
<div class="r" style="left:1305.80px;top:1087.75px;width:36.20px;height:35.60px;background:#0e1014;border-radius:5px;border:1.6px solid #1c1f26;box-sizing:border-box;"></div>
<svg class="r" style="left:1313.50px;top:1094.95px;" width="21" height="21" viewBox="0 0 22 22"><rect x="1" y="1" width="20" height="20" fill="none" stroke="#80838d" stroke-width="1.5"/><circle cx="7.6" cy="10.6" r="2.1" fill="none" stroke="#80838d" stroke-width="1.4"/><path d="M9.7 10.6 H16.2 M13.3 10.6 V12.9 M15.6 10.6 V12.4" fill="none" stroke="#80838d" stroke-width="1.4"/></svg>
<div class="t" style="top:1098.15px;font-size:13px;color:#7b7e88;font-weight:700;letter-spacing:1.1px;left:1358.40px;">USER CREDENTIALS WERE LEAKED</div>
<svg class="r" style="left:1359.00px;top:1136.25px;" width="15" height="15" viewBox="0 0 15 15"><circle cx="7.5" cy="3.4" r="2.6" fill="none" stroke="#f0f0f2" stroke-width="1.7"/><circle cx="3.4" cy="11" r="2.6" fill="none" stroke="#f0f0f2" stroke-width="1.7"/><circle cx="11.6" cy="11" r="2.6" fill="none" stroke="#f0f0f2" stroke-width="1.7"/></svg>
<div class="t" style="top:1136.80px;font-size:14px;color:#e9e9ec;letter-spacing:0.3px;left:1383.60px;">d.brown@email.com</div>
<div class="r" style="left:1295.40px;top:1179.60px;width:368.60px;height:96.60px;background:#0c0e12;border-radius:5px;"></div>
<div class="r" style="left:1305.80px;top:1194.90px;width:36.20px;height:35.60px;background:#0e1014;border-radius:5px;border:1.6px solid #1c1f26;box-sizing:border-box;"></div>
<svg class="r" style="left:1314.03px;top:1201.67px;" width="19.95" height="21.85" viewBox="0 0 21 23"><ellipse cx="10.5" cy="4.2" rx="9.5" ry="3.3" fill="none" stroke="#80838d" stroke-width="1.5"/><path d="M1 4.2 V18.8 A9.5 3.3 0 0 0 20 18.8 V4.2" fill="none" stroke="#80838d" stroke-width="1.5"/><path d="M1 11.5 A9.5 3.3 0 0 0 20 11.5" fill="none" stroke="#80838d" stroke-width="1.5"/></svg>
<div class="t" style="left:1358.4px;top:1197.20px;font-size:13px;font-weight:700;letter-spacing:1.27px;color:#b9bbc2;"><span style="color:#7b7e88">WEBSITE.COM</span> EXPERIENCED A DATA</div>
<div class="t" style="top:1214.30px;font-size:13px;color:#b9bbc2;font-weight:700;letter-spacing:1.1px;left:1358.40px;">BREACH</div>
<svg class="r" style="left:1359.00px;top:1243.40px;" width="15" height="15" viewBox="0 0 15 15"><circle cx="7.5" cy="3.4" r="2.6" fill="none" stroke="#f0f0f2" stroke-width="1.7"/><circle cx="3.4" cy="11" r="2.6" fill="none" stroke="#f0f0f2" stroke-width="1.7"/><circle cx="11.6" cy="11" r="2.6" fill="none" stroke="#f0f0f2" stroke-width="1.7"/></svg>
<div class="t" style="top:1243.95px;font-size:14px;color:#e9e9ec;letter-spacing:0.3px;left:1383.60px;">alexander@email.com</div>
</div></div></div>
</body></html>
